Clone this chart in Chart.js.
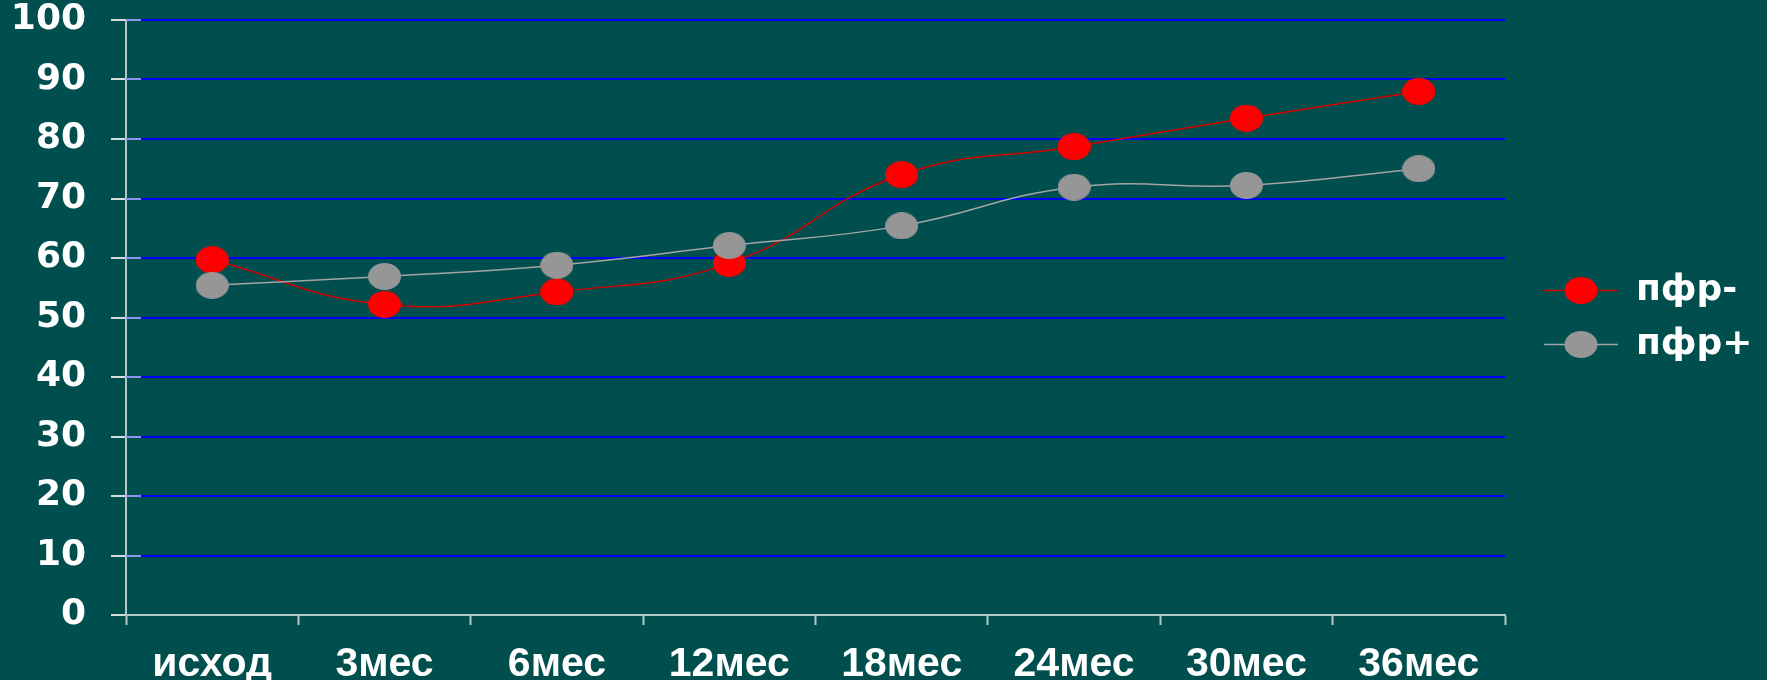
<!DOCTYPE html>
<html>
<head>
<meta charset="utf-8">
<script src="https://cdn.jsdelivr.net/npm/chart.js@4/dist/chart.umd.min.js"></script>
<style>
  html, body { margin: 0; padding: 0; background: #014e4e; overflow: hidden; }
  canvas { display: block; }
</style>
</head>
<body>
<canvas id="chart" width="1767" height="680" style="width:1767px;height:680px"></canvas>
<script>
// Observation points and the two patient groups
const categories = ['исход', '3мес', '6мес', '12мес', '18мес', '24мес', '30мес', '36мес'];
const seriesNames = ['пфр-', 'пфр+'];
const pfrMinus = [59.7, 52.2, 54.3, 59.1, 74.0, 78.7, 83.5, 88.0];
const pfrPlus  = [55.4, 56.9, 58.8, 62.1, 65.4, 71.9, 72.2, 75.0];
const yTicks = [0, 10, 20, 30, 40, 50, 60, 70, 80, 90, 100];

// Styling
const BG = '#014e4e';
const GRID_BLUE = '#0000ff';
const AXIS_GREY = '#b4c8c8';
const TICK_LIGHT = '#d4dcdc';
const INNER_TICK = '#8c96e8';
const RED = '#ff0000', RED_LINE = '#d40000';
const GREY = '#969696', GREY_LINE = '#a4a4a4';
const MARK_W = 33, MARK_H = 27;
const LEG_LEAD = 21, LEG_LINE = 74;
const Y_FONT = { family: 'DejaVu Sans', size: 36, weight: 'bold', lineHeight: 1 };
const X_FONT = { family: 'Liberation Sans', size: 41, weight: 'bold' };
const LEG_FONT = { family: 'DejaVu Sans', size: 36, weight: 'bold' };
const AXIS_LEFT = 126, AXIS_RIGHT = 1505, PLOT_TOP = 20, X_AXIS_H = 65;

// Elliptic marker; with a lead it becomes the legend icon with a stroke through it
function makeMarker(fill, lineColor, withLine) {
  const c = document.createElement('canvas');
  c.width = withLine ? LEG_LEAD + LEG_LINE : MARK_W;
  c.height = MARK_H;
  const g = c.getContext('2d');
  const cx = withLine ? LEG_LEAD + LEG_LINE / 2 : MARK_W / 2;
  if (withLine) {
    g.strokeStyle = lineColor;
    g.lineWidth = 1.5;
    g.beginPath();
    g.moveTo(LEG_LEAD, MARK_H / 2);
    g.lineTo(LEG_LEAD + LEG_LINE, MARK_H / 2);
    g.stroke();
  }
  g.fillStyle = fill;
  g.beginPath();
  g.ellipse(cx, MARK_H / 2, MARK_W / 2, MARK_H / 2, 0, 0, Math.PI * 2);
  g.fill();
  return c;
}

const markers = [makeMarker(RED), makeMarker(GREY)];
const legendIcons = [makeMarker(RED, RED_LINE, true), makeMarker(GREY, GREY_LINE, true)];

// Legend width, so the plot ends where the last category boundary sits
const mctx = document.createElement('canvas').getContext('2d');
mctx.font = `bold ${LEG_FONT.size}px "${LEG_FONT.family}"`;
const legTextW = Math.max(...seriesNames.map(s => mctx.measureText(s).width));
const legPad = 18;
const legendW = 10 + legPad + (LEG_LEAD + LEG_LINE) + LEG_FONT.size / 2 + legTextW;
const padRight = Math.max(0, 1767 - AXIS_RIGHT - legendW);

// Small inner half of the cross ticks on the value axis
const crossTicks = {
  id: 'crossTicks',
  beforeDatasetsDraw(chart) {
    const y = chart.scales.y;
    const x0 = chart.chartArea.left;
    const ctx = chart.ctx;
    ctx.save();
    ctx.lineWidth = 2;
    y.ticks.forEach(t => {
      const py = Math.round(y.getPixelForValue(t.value));
      ctx.strokeStyle = t.value === 0 ? AXIS_GREY : INNER_TICK;
      ctx.beginPath();
      ctx.moveTo(x0, py);
      ctx.lineTo(x0 + 15, py);
      ctx.stroke();
    });
    ctx.restore();
  }
};

const bgPlugin = {
  id: 'bg',
  beforeDraw(chart) {
    const ctx = chart.ctx;
    ctx.save();
    ctx.fillStyle = BG;
    ctx.fillRect(0, 0, chart.width, chart.height);
    ctx.restore();
  }
};

new Chart(document.getElementById('chart'), {
  type: 'line',
  data: {
    labels: categories,
    datasets: [
      {
        label: seriesNames[0],
        data: pfrMinus,
        borderColor: RED_LINE,
        backgroundColor: RED,
        borderWidth: 1.5,
        tension: 0.45,
        pointStyle: markers[0],
        pointRadius: 14,
        order: 1
      },
      {
        label: seriesNames[1],
        data: pfrPlus,
        borderColor: GREY_LINE,
        backgroundColor: GREY,
        borderWidth: 1.5,
        tension: 0.45,
        pointStyle: markers[1],
        pointRadius: 14,
        order: 0
      }
    ]
  },
  options: {
    responsive: false,
    devicePixelRatio: 1,
    animation: false,
    layout: { padding: { top: PLOT_TOP, right: padRight, bottom: 0, left: 0 } },
    plugins: {
      tooltip: { enabled: false },
      legend: {
        position: 'right',
        fullSize: false,
        align: 'center',
        labels: {
          usePointStyle: true,
          pointStyleWidth: LEG_LEAD + LEG_LINE,
          padding: legPad,
          color: '#ffffff',
          font: LEG_FONT,
          generateLabels(chart) {
            return chart.data.datasets.map((ds, i) => ({
              text: ds.label,
              pointStyle: legendIcons[i],
              fillStyle: ds.backgroundColor,
              strokeStyle: ds.borderColor,
              lineWidth: 0,
              fontColor: '#ffffff',
              hidden: !chart.isDatasetVisible(i),
              datasetIndex: i
            }));
          }
        }
      }
    },
    scales: {
      x: {
        type: 'category',
        offset: true,
        grid: {
          offset: true,
          drawOnChartArea: false,
          drawTicks: true,
          tickLength: 10,
          tickColor: AXIS_GREY,
          tickWidth: 2
        },
        border: { display: true, color: AXIS_GREY, width: 2 },
        ticks: {
          color: '#ffffff',
          font: X_FONT,
          padding: 15,
          maxRotation: 0,
          autoSkip: false
        },
        afterFit(scale) {
          scale.height = X_AXIS_H;
          scale.paddingLeft = 0;
          scale.paddingRight = 0;
        }
      },
      y: {
        min: 0,
        max: 100,
        afterBuildTicks(scale) { scale.ticks = yTicks.map(v => ({ value: v })); },
        grid: {
          color: ctx => (ctx.tick && ctx.tick.value === 0) ? 'rgba(0,0,0,0)' : GRID_BLUE,
          lineWidth: 2,
          drawTicks: true,
          tickLength: 15,
          tickColor: TICK_LIGHT,
          tickWidth: 2
        },
        border: { display: true, color: AXIS_GREY, width: 2 },
        ticks: {
          color: '#ffffff',
          font: Y_FONT,
          padding: 25
        },
        afterFit(scale) {
          scale.width = AXIS_LEFT;
          scale.paddingTop = 0;
          scale.paddingBottom = 0;
        }
      }
    }
  },
  plugins: [bgPlugin, crossTicks]
});
</script>
</body>
</html>
